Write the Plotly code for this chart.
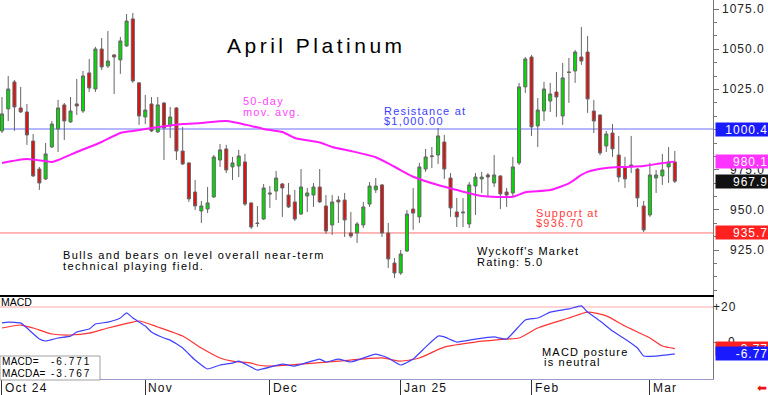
import plotly.graph_objects as go

# ---------------- data ----------------
DAY = list(range(109))
OPEN = [999.2, 1012.9, 1029.7, 1013.5, 1011.0, 992.9, 975.5, 969.3, 989.2, 1000.4,
        1015.4, 1004.8, 1016.0, 1011.6, 1035.3, 1025.3, 1050.2, 1039.6, 1046.5, 1043.4,
        1052.1, 1068.9, 1029.1, 1007.9, 1016.0, 998.6, 1016.6, 1002.3, 1013.5, 986.7,
        979.3, 961.2, 949.4, 950.6, 958.1, 981.1, 988.0, 976.8, 977.4, 979.9,
        954.4, 941.9, 944.4, 960.6, 961.8, 966.2, 959.3, 955.0, 947.5, 958.7,
        959.3, 964.3, 952.5, 940.7, 956.2, 956.2, 935.7, 935.7, 940.7, 953.7,
        962.5, 965.6, 935.7, 917.0, 910.8, 924.5, 950.6, 945.7, 975.5, 983.2,
        984.2, 992.3, 969.9, 948.8, 948.8, 941.3, 964.9, 969.3, 971.8, 966.8,
        971.2, 961.2, 960.6, 979.3, 1026.6, 1045.2, 1002.3, 1011.6, 1017.8, 1023.4,
        1008.5, 1035.9, 1036.5, 1045.2, 1048.3, 1011.6, 1009.1, 989.8, 997.9, 984.2,
        976.8, 978.0, 975.5, 952.5, 946.9, 969.9, 971.2, 976.8, 979.9]
HIGH = [1020.3, 1033.4, 1030.9, 1026.6, 1016.0, 997.3, 976.8, 991.7, 1005.4, 1018.5,
        1016.6, 1020.3, 1031.5, 1036.5, 1044.0, 1051.5, 1057.0, 1061.4, 1047.0, 1057.7,
        1072.0, 1072.6, 1029.5, 1021.6, 1020.3, 1020.3, 1017.0, 1014.1, 1014.1, 1001.7,
        979.6, 968.7, 955.6, 964.3, 984.2, 991.1, 990.5, 983.0, 987.4, 984.9,
        954.7, 952.5, 966.2, 964.9, 974.3, 966.8, 966.8, 962.5, 975.5, 963.7,
        966.8, 975.5, 959.3, 959.3, 958.7, 960.6, 948.8, 942.5, 955.0, 967.4,
        969.9, 966.2, 941.9, 920.1, 925.1, 950.0, 963.7, 979.3, 988.0, 989.2,
        1001.0, 996.7, 973.0, 957.5, 957.5, 967.4, 973.0, 973.7, 973.0, 984.2,
        971.5, 963.7, 983.0, 1029.1, 1045.2, 1046.5, 1019.7, 1029.7, 1029.1, 1035.9,
        1041.5, 1044.6, 1049.6, 1063.9, 1058.3, 1018.5, 1009.5, 999.2, 1003.5, 996.1,
        983.0, 996.1, 976.1, 955.6, 979.3, 974.9, 984.9, 989.2, 986.7]
LOW = [997.9, 1005.4, 999.2, 1010.4, 990.5, 970.5, 962.5, 968.7, 988.6, 986.1,
       993.6, 1004.2, 1009.1, 1010.4, 1023.4, 1023.4, 1037.1, 1038.4, 1022.2, 1034.7,
       1051.5, 1029.1, 1002.9, 1003.5, 998.6, 997.9, 981.1, 994.8, 981.1, 978.0,
       955.0, 950.0, 941.9, 948.1, 957.5, 976.8, 973.0, 968.7, 970.5, 952.5,
       938.2, 939.4, 943.8, 951.3, 956.2, 945.7, 951.3, 943.2, 946.9, 948.8,
       951.9, 954.4, 935.1, 934.5, 941.9, 933.2, 932.6, 929.5, 938.8, 951.9,
       960.6, 933.2, 913.9, 907.7, 909.6, 923.9, 937.6, 941.9, 973.7, 976.1,
       978.6, 969.3, 945.7, 939.4, 939.4, 938.8, 946.9, 960.6, 958.1, 964.3,
       950.6, 951.9, 958.1, 978.0, 1022.8, 996.1, 989.2, 1005.4, 1011.0, 1007.9,
       1002.9, 1016.6, 1029.1, 1040.3, 1010.4, 997.9, 984.2, 986.1, 983.0, 967.4,
       963.7, 973.0, 951.9, 936.3, 945.7, 960.6, 965.6, 966.8, 966.8]
CLOSE = [1009.8, 1025.3, 1014.1, 1011.0, 996.7, 971.2, 966.8, 984.9, 1003.5, 1013.5,
         1005.4, 1011.6, 1014.7, 1033.4, 1025.9, 1050.2, 1039.0, 1042.7, 1045.2, 1055.2,
         1067.6, 1030.3, 1008.5, 1012.2, 999.2, 1015.4, 1001.0, 1007.9, 986.7, 978.6,
         956.9, 952.5, 952.5, 954.4, 983.0, 987.4, 974.9, 979.3, 983.6, 953.7,
         939.4, 941.6, 963.7, 960.0, 969.9, 963.7, 951.9, 944.4, 964.3, 960.6,
         964.3, 955.0, 936.9, 955.0, 955.0, 943.8, 933.8, 941.3, 951.9, 964.9,
         964.9, 935.7, 919.5, 910.8, 922.6, 947.5, 948.1, 976.8, 983.0, 983.6,
         996.1, 975.5, 951.3, 945.7, 948.3, 965.6, 970.5, 970.5, 970.5, 971.8,
         960.0, 959.3, 976.8, 1026.6, 1044.0, 1001.7, 1012.2, 1025.3, 1022.2, 1020.3,
         1032.2, 1035.6, 1048.3, 1042.7, 1019.1, 1005.4, 985.5, 997.3, 988.0, 970.5,
         969.3, 976.8, 957.5, 937.6, 971.8, 971.8, 974.9, 979.9, 967.9]

MA_DAY = [0, 4, 8, 9, 12, 16, 19, 21, 24, 29, 32, 36, 40, 42, 45, 47, 51, 53, 56, 60,
          63, 66, 70, 73, 77, 82, 84, 88, 91, 93, 94, 97, 100, 103, 106, 108]
MA_VAL = [979.2, 981.7, 979.9, 981.1, 986.1, 992.3, 997.9, 999.2, 1001.0, 1003.5,
          1004.1, 1005.4, 1002.3, 1000.4, 998.5, 994.8, 992.0, 989.2, 986.7, 982.8,
          976.9, 970.7, 965.5, 962.4, 958.7, 958.3, 961.0, 962.4, 966.6, 971.8,
          973.7, 976.1, 976.8, 977.4, 979.2, 980.1]

MACD_DAY = [0, 1, 3, 4, 6, 7, 9, 11, 12, 14, 15, 17, 19, 20, 21, 23, 24, 26, 27, 29,
            31, 33, 35, 37, 38, 40, 41, 45, 47, 51, 52, 54, 56, 60, 62, 64, 66, 68, 70, 71,
            73, 76, 79, 81, 84, 86, 88, 91, 93, 94, 96, 98, 100, 102, 103, 105, 108]
MACD_VAL = [10.9, 11.4, 10.9, 8.0, 1.7, 0.6, 2.3, 3.4, 5.7, 7.4,
            10.3, 11.4, 13.7, 16.6, 13.7, 9.1, 5.7, 2.3, 1.1, -3.4,
            -10.3, -15.4, -13.1, -12.0, -10.9, -14.3, -16.0, -12.6, -13.7, -9.7,
            -11.4, -9.7, -11.4, -6.9, -9.1, -13.1, -9.7, -2.9, 3.4, 2.9,
            0.0, 1.7, 2.9, 1.7, 12.6, 13.7, 17.1, 18.9, 20.6, 17.1,
            12.0, 6.3, 1.7, -3.4, -8.0, -8.0, -6.771]
SIG_DAY = [0, 3, 5, 8, 11, 14, 17, 21, 22, 25, 29, 32, 35, 37, 40, 41, 43, 48, 54, 61,
           64, 67, 71, 76, 81, 83, 86, 91, 94, 97, 100, 104, 106, 108]
SIG_VAL = [8.0, 9.7, 8.0, 4.6, 4.0, 5.1, 8.0, 11.4, 12.0, 8.6,
           3.4, -3.4, -9.1, -10.9, -12.0, -13.1, -13.7, -12.6, -10.9, -9.1,
           -10.9, -9.1, -2.9, 0.0, 1.7, 2.3, 8.0, 13.7, 17.1, 14.9,
           9.1, 2.3, -2.3, -3.767]

MONTH_DAY = [0, 23, 43, 64, 85, 104]
MONTH_LABEL = ["Oct 24", "Nov", "Dec", "Jan 25", "Feb", "Mar"]
PRICE_TICKS = [925, 950, 975, 1000, 1025, 1050, 1075]
PRICE_LABELS = [925, 950, 975, 1025, 1050, 1075]   # 1000.0 sits under the 1000.4 box
MACD_TICKS = [0, 20]
RESISTANCE = 1000.4
SUPPORT = 935.7
MACD_REF = 20
MACD_LAST = MACD_VAL[-1]
MACDA_LAST = SIG_VAL[-1]

# ---------------- layout geometry ----------------
W, H = 768, 395
PW, PH = 713, 379          # plot area (px)
FONT = "Liberation Sans, Arial, sans-serif"


def sp(t, ls):
    return f'<span style="letter-spacing:{ls}px">{t}</span>'


def px(xp, yp):
    return xp / PW, (PH - yp) / PH


fig = go.Figure()

fig.add_trace(go.Candlestick(
    x=DAY, open=OPEN, high=HIGH, low=LOW, close=CLOSE,
    increasing=dict(fillcolor="#00dd00", line=dict(color="#666666", width=1)),
    decreasing=dict(fillcolor="#dd1111", line=dict(color="#666666", width=1)),
    whiskerwidth=0, xaxis="x", yaxis="y", hoverinfo="skip"))

fig.add_trace(go.Scatter(
    x=MA_DAY, y=MA_VAL, mode="lines", xaxis="x", yaxis="y",
    line=dict(color="#ff1aff", width=2, shape="spline", smoothing=0.6),
    hoverinfo="skip"))

fig.add_trace(go.Scatter(
    x=SIG_DAY, y=SIG_VAL, mode="lines", xaxis="x2", yaxis="y2",
    line=dict(color="#ff3333", width=1.2, shape="spline", smoothing=0.6),
    hoverinfo="skip"))
fig.add_trace(go.Scatter(
    x=MACD_DAY, y=MACD_VAL, mode="lines", xaxis="x2", yaxis="y2",
    line=dict(color="#4040ff", width=1.2, shape="spline", smoothing=0.4),
    hoverinfo="skip"))

shapes = [
    dict(type="line", xref="paper", x0=0, x1=1, yref="y", y0=RESISTANCE, y1=RESISTANCE,
         line=dict(color="#6f6fff", width=1), layer="below"),
    dict(type="line", xref="paper", x0=0, x1=1, yref="y", y0=SUPPORT, y1=SUPPORT,
         line=dict(color="#ff7070", width=1), layer="below"),
    dict(type="line", xref="paper", x0=0, x1=1, yref="y2", y0=MACD_REF, y1=MACD_REF,
         line=dict(color="#ffd4d4", width=2), layer="below"),
]
bx0, by0 = px(0, 356)
bx1, by1 = px(100, 380)
shapes.append(dict(type="rect", xref="paper", yref="paper", x0=bx0, x1=bx1, y0=by1, y1=by0,
                   fillcolor="white", line=dict(color="#a0a0a0", width=1)))

ann = []


def txt(s, xp, yp, size=11, color="black", ls=1.2, anchor="left"):
    x, y = px(xp, yp)
    ann.append(dict(text=sp(s, ls), x=x, y=y, xref="paper", yref="paper",
                    xanchor=anchor, yanchor="middle", showarrow=False, borderpad=0,
                    font=dict(size=size, color=color, family=FONT)))


txt("April Platinum", 226, 45, size=21, ls=3.5)
txt("50-day", 242, 101, color="#ff44ff")
txt("mov. avg.", 242, 112, color="#ff44ff")
txt("Resistance at", 383, 111, color="#3c3cff")
txt("$1,000.00", 383, 121, color="#3c3cff")
txt("Support at", 535, 213, color="#ff3c3c")
txt("$936.70", 535, 223, color="#ff3c3c")
txt("Bulls and bears on level overall near-term", 62, 255, ls=1.4)
txt("technical playing field.", 62, 266, ls=1.4)
txt("Wyckoff's Market", 476, 251)
txt("Rating: 5.0", 476, 262)
txt("MACD posture", 541, 352)
txt("is neutral", 543, 362)
txt("MACD", 0, 302, size=10.5, ls=0)
txt("MACD=", 1, 361, size=10, ls=0.3)
txt("MACDA=", 1, 373, size=10, ls=0.3)
txt(f"{MACD_LAST:.3f}", 50, 361, size=10, ls=2)
txt(f"{MACDA_LAST:.3f}", 50, 373, size=10, ls=2)

# right axis labels
for v in PRICE_LABELS:
    ann.append(dict(text=sp(f"{v:.1f}", 1), x=766 / PW, y=v, xref="paper", yref="y",
                    xanchor="right", yanchor="middle", showarrow=False, borderpad=0,
                    font=dict(size=12, color="#222222", family=FONT)))
for v in MACD_TICKS:
    ann.append(dict(text=sp(f"{v:+d}" if v else "0", 1), x=737 / PW, y=v, xref="paper", yref="y2",
                    xanchor="right", yanchor="middle", showarrow=False, borderpad=0,
                    font=dict(size=12, color="#222222", family=FONT)))


def valbox(v, yref, bg, fmt):
    ann.append(dict(text=sp(fmt.format(v), 1), x=715 / PW, y=v, xref="paper", yref=yref,
                    xanchor="left", yanchor="middle", showarrow=False, borderpad=0,
                    width=52, height=13, align="right", bgcolor=bg,
                    font=dict(size=12, color="white", family=FONT)))


valbox(RESISTANCE, "y", "#1a1aff", "{:.1f}")
valbox(MA_VAL[-1], "y", "#ff33ff", "{:.1f}")
valbox(CLOSE[-1], "y", "#111111", "{:.1f}")
valbox(SUPPORT, "y", "#ff2020", "{:.1f}")
valbox(MACDA_LAST, "y2", "#ff2020", "{:.2f}")
valbox(MACD_LAST, "y2", "#1a1aff", "{:.2f}")

# month labels
for d, lab in zip(MONTH_DAY, MONTH_LABEL):
    ann.append(dict(text=sp(lab, 1.2), x=d, xref="x2", xshift=2, y=(PH - 388) / PH, yref="paper",
                    xanchor="left", yanchor="middle", showarrow=False, borderpad=0,
                    font=dict(size=12, color="#111111", family=FONT)))

ax, ay = px(762, 388)
ann.append(dict(text="⬅", x=ax, y=ay, xref="paper", yref="paper", xanchor="center",
                yanchor="middle", showarrow=False, font=dict(size=12, color="#ee1111")))

XR = [-0.32, 114.13]
fig.update_layout(
    width=W, height=H, margin=dict(l=0, r=W - PW, t=0, b=H - PH),
    paper_bgcolor="white", plot_bgcolor="white", showlegend=False,
    font=dict(family=FONT, size=11, color="black"),
    shapes=shapes, annotations=ann,
    xaxis=dict(domain=[0, 1], range=XR, anchor="y", showline=True, linecolor="black",
               linewidth=1.5, ticks="", showticklabels=False, showgrid=False, zeroline=False,
               rangeslider=dict(visible=False), fixedrange=True),
    yaxis=dict(domain=[1 - 295 / PH, 1], range=[897.1, 1080.67], side="right", anchor="x",
               showline=True, linecolor="#777777", linewidth=1, ticks="outside", ticklen=5,
               tickcolor="#777777", tickmode="array", tickvals=PRICE_TICKS,
               minor=dict(ticks="outside", ticklen=3, tickcolor="#777777", dtick=25 / 3, tick0=0),
               showticklabels=False, showgrid=False, zeroline=False, fixedrange=True),
    xaxis2=dict(domain=[0, 1], range=XR, anchor="y2", matches="x", showline=True,
                linecolor="#9a9acc", linewidth=1, tickmode="array", tickvals=MONTH_DAY,
                ticks="outside", ticklen=15, tickcolor="#333333", tickwidth=1,
                showticklabels=False, showgrid=False, zeroline=False, fixedrange=True),
    yaxis2=dict(domain=[0, 1 - 297 / PH], range=[-21.1, 25.7], side="right", anchor="x2",
                showline=True, linecolor="#777777", linewidth=1, ticks="outside", ticklen=4,
                tickcolor="#777777", tickmode="array", tickvals=MACD_TICKS,
                showticklabels=False, showgrid=False, zeroline=False, fixedrange=True),
)

fig.write_html("out.html", config={"displayModeBar": False},
               post_script="document.body.style.margin='0';document.body.style.overflow='hidden';")
